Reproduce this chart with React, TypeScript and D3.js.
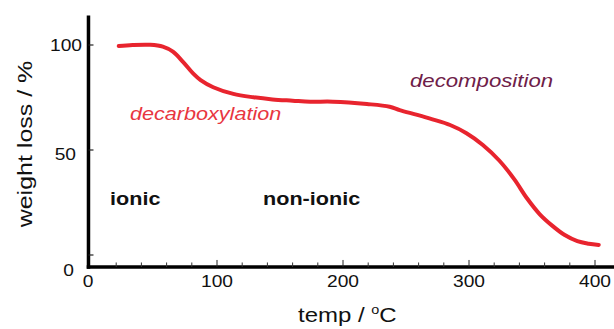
import React from "react";
import * as d3 from "d3";

// ---- data ----
const temps = [22, 33, 47, 57, 65, 73, 81, 87, 97, 113, 129, 144, 160, 174, 192, 219, 237, 245, 259, 271, 285, 298, 311, 324, 336, 346, 356, 366, 376, 386, 395, 403];
const weights = [99.5, 100, 100.1, 99.2, 96.8, 92.0, 86.5, 83.3, 79.9, 76.7, 75.1, 74.1, 73.5, 73.0, 73.0, 71.9, 70.6, 69.0, 66.7, 64.6, 61.9, 58.0, 52.4, 45.0, 36.0, 27.0, 19.5, 14.0, 9.5, 6.6, 5.4, 4.8];
const xTickLabels = [0, 100, 200, 300, 400];
const xMinorTicks = [20, 40, 60, 80, 120, 140, 160, 180, 220, 240, 260, 280, 320, 340, 360, 380];
const yTickLabels = [0, 50, 100];
const regionLabels = ["ionic", "non-ionic"];
const eventLabels = ["decarboxylation", "decomposition"];

const W = 614;
const H = 329;
const FONT = "'Liberation Sans', Arial, Helvetica, sans-serif";
const SX = 1.2; // horizontal glyph stretch seen in the reference

function T({ x, y, children, size, anchor = "start", weight = "normal", italic = false, fill = "#111", rotate = 0, sx = SX }: any) {
  return (
    <text
      transform={`translate(${x},${y}) rotate(${rotate}) scale(${sx},1)`}
      fontFamily={FONT}
      fontSize={size}
      textAnchor={anchor}
      fontWeight={weight}
      fontStyle={italic ? "italic" : "normal"}
      fill={fill}
    >
      {children}
    </text>
  );
}

export default function App() {
  const x = d3.scaleLinear().domain([0, 400]).range([91, 595]);
  const y = d3.scaleLinear().domain([0, 100]).range([255, 45]);

  const axisY = y(-5.7);
  const axisX = x(-2);
  const yTop = y(114);
  const xRight = W;

  const pts = temps.map((t, i) => [t, weights[i]] as [number, number]);
  const line = d3
    .line<[number, number]>()
    .x((d) => x(d[0]))
    .y((d) => y(d[1]))
    .curve(d3.curveCatmullRom.alpha(0.5));

  const yLabelPos: Record<number, [number, number]> = {
    100: [82, y(100) + 6],
    50: [76, y(50) + 10],
    0: [74, axisY + 9],
  };

  return (
    <svg width={W} height={H} style={{ position: "absolute", left: 0, top: 0, background: "#fff" }}>
      <rect x={0} y={0} width={W} height={H} fill="#fff" />
      {/* curve */}
      <path d={line(pts) || ""} fill="none" stroke="#e8242e" strokeWidth={4} strokeLinecap="round" strokeLinejoin="round" />

      {/* axes */}
      <line x1={axisX} y1={yTop} x2={axisX} y2={axisY + 1.75} stroke="#000" strokeWidth={3.5} />
      <line x1={axisX - 1.75} y1={axisY} x2={xRight} y2={axisY} stroke="#000" strokeWidth={3.5} />

      {/* x ticks */}
      {xTickLabels.filter((v) => v > 0).map((v) => (
        <line key={"xm" + v} x1={x(v)} x2={x(v)} y1={axisY} y2={axisY - 7} stroke="#222" strokeWidth={1} />
      ))}
      {xMinorTicks.map((v) => (
        <line key={"xn" + v} x1={x(v)} x2={x(v)} y1={axisY} y2={axisY - 4.5} stroke="#333" strokeWidth={1} />
      ))}
      {xTickLabels.map((v) => (
        <T key={"xl" + v} x={x(v) - (v === 0 ? 3 : 0)} y={axisY + 20} size={16} anchor="middle">
          {v}
        </T>
      ))}

      {/* y ticks */}
      {yTickLabels.map((v) => (
        <line key={"yt" + v} x1={axisX} x2={axisX + 5} y1={y(v)} y2={y(v)} stroke="#222" strokeWidth={1.2} />
      ))}
      {yTickLabels.map((v) => (
        <T key={"yl" + v} x={yLabelPos[v][0]} y={yLabelPos[v][1]} size={16} anchor="end">
          {v}
        </T>
      ))}

      {/* axis titles */}
      <T x={298} y={322} size={20}>
        {"temp / "}
        <tspan fontSize={12} dy={-8}>o</tspan>
        <tspan dy={8}>C</tspan>
      </T>
      <T x={32} y={144} size={20} anchor="middle" rotate={-90} sx={1.25}>
        weight loss / %
      </T>

      {/* annotations */}
      <T x={130} y={120} size={18} italic fill="#e8363f">
        {eventLabels[0]}
      </T>
      <T x={410} y={87} size={18.5} italic fill="#6e2048">
        {eventLabels[1]}
      </T>
      <T x={110} y={205} size={18} weight="bold">
        {regionLabels[0]}
      </T>
      <T x={263} y={205} size={18} weight="bold">
        {regionLabels[1]}
      </T>
    </svg>
  );
}
